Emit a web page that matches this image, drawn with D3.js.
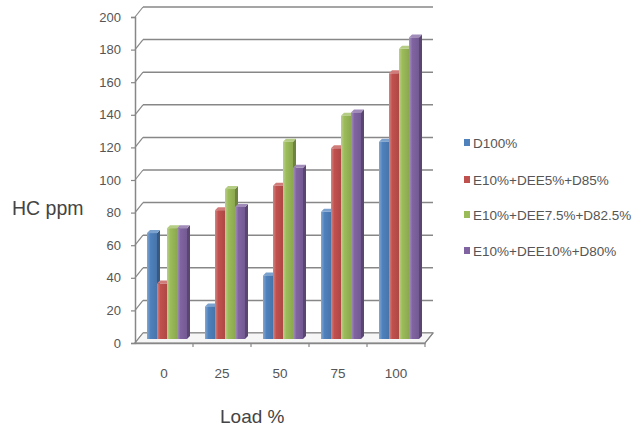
<!DOCTYPE html>
<html>
<head>
<meta charset="utf-8">
<script src="https://cdn.jsdelivr.net/npm/d3@7"></script>
<style>
  html, body { margin: 0; padding: 0; background: #fff; }
  svg { display: block; }
</style>
</head>
<body>
<svg id="chart" width="634" height="432"></svg>
<script>
// Load steps (%) and HC emissions (ppm) for each fuel blend
const loads = ["0", "25", "50", "75", "100"];
const seriesNames = ["D100%", "E10%+DEE5%+D85%", "E10%+DEE7.5%+D82.5%", "E10%+DEE10%+D80%"];
const d100 = [65, 20, 39, 78, 121];
const dee5 = [34, 79, 94, 117, 163];
const dee75 = [68, 92, 121, 137, 178];
const dee10 = [68, 81, 105, 139, 185];
const yTicks = [0, 20, 40, 60, 80, 100, 120, 140, 160, 180, 200];
const colors = ["#4F81BD", "#C0504D", "#9BBB59", "#8064A2"];

const series = [d100, dee5, dee75, dee10];

const svg = d3.select("#chart");
const font = "'Liberation Sans', Arial, sans-serif";

// Front plane of the 3D plot box, and the depth offset of the back wall
const x0 = 135, x1 = 425, yBase = 343, yTop = 17;
const dep = { x: 8, y: -10 };

const x = d3.scaleBand().domain(loads).range([x0, x1]);
const xi = d3.scaleBand().domain(d3.range(series.length)).range([0, 40]).padding(0);
const y = d3.scaleLinear().domain([0, 200]).range([yBase, yTop]);

const gridColor = "#878787";

// Back-wall gridlines plus their links to the front axis
const grid = svg.append("g");
yTicks.forEach(t => {
  const yy = y(t);
  grid.append("line")
    .attr("x1", x0 + dep.x).attr("x2", x1 + dep.x)
    .attr("y1", yy + dep.y).attr("y2", yy + dep.y)
    .attr("stroke", gridColor).attr("stroke-width", 1.5);
  grid.append("line")
    .attr("x1", x0).attr("y1", yy)
    .attr("x2", x0 + dep.x).attr("y2", yy + dep.y)
    .attr("stroke", gridColor).attr("stroke-width", 1.2);
});

// Floor plate
svg.append("path")
  .attr("d", `M${x0},${yBase} L${x1},${yBase} L${x1 + dep.x},${yBase + dep.y} L${x0 + dep.x},${yBase + dep.y} Z`)
  .attr("fill", "#f6f6f6").attr("stroke", gridColor).attr("stroke-width", 1.2);

// Front vertical axis
const yAxis = d3.axisLeft(y).tickValues(yTicks).tickSize(4).tickPadding(10);
svg.append("g")
  .attr("transform", `translate(${x0},0)`)
  .call(yAxis)
  .call(g => g.select(".domain").attr("stroke", gridColor).attr("stroke-width", 1.5))
  .call(g => g.selectAll(".tick line").attr("stroke", gridColor).attr("stroke-width", 1.2))
  .call(g => g.selectAll(".tick text")
    .attr("font-family", font).attr("font-size", 13).attr("fill", "#555"));

// Front horizontal axis with tick marks between categories
const xAxis = d3.axisBottom(x).tickSize(0).tickPadding(25);
svg.append("g")
  .attr("transform", `translate(0,${yBase})`)
  .call(xAxis)
  .call(g => g.select(".domain").attr("stroke", gridColor).attr("stroke-width", 1.5))
  .call(g => g.selectAll(".tick text")
    .attr("font-family", font).attr("font-size", 13.5).attr("fill", "#555"));
loads.forEach((c, i) => {
  const bx = x(c) + x.bandwidth();
  svg.append("line")
    .attr("x1", bx).attr("x2", bx).attr("y1", yBase).attr("y2", yBase + 4)
    .attr("stroke", gridColor).attr("stroke-width", 1.2);
});

// Gradients for column front faces
const defs = svg.append("defs");
colors.forEach((c, i) => {
  const g = defs.append("linearGradient").attr("id", "grad" + i)
    .attr("x1", "0").attr("x2", "1").attr("y1", "0").attr("y2", "0");
  g.append("stop").attr("offset", "0%").attr("stop-color", d3.interpolateRgb(c, "#fff")(0.3));
  g.append("stop").attr("offset", "35%").attr("stop-color", c);
  g.append("stop").attr("offset", "100%").attr("stop-color", d3.interpolateRgb(c, "#000")(0.1));
});

// 3D columns
const barOff = { x: 3, y: -4 };
const barDep = { x: 3, y: -3 };
const bw = xi.bandwidth();
const bars = svg.append("g");
loads.forEach((c, ci) => {
  series.forEach((vals, si) => {
    const v = vals[ci];
    const bx = x(c) + (x.bandwidth() - 40) / 2 + xi(si) + barOff.x;
    const top = y(v) + barOff.y;
    const bot = y(0) + barOff.y;
    const col = colors[si];
    // right side
    bars.append("path")
      .attr("d", `M${bx + bw},${top} L${bx + bw + barDep.x},${top + barDep.y} L${bx + bw + barDep.x},${bot + barDep.y} L${bx + bw},${bot} Z`)
      .attr("fill", d3.interpolateRgb(col, "#000")(0.3));
    // top
    bars.append("path")
      .attr("d", `M${bx},${top} L${bx + barDep.x},${top + barDep.y} L${bx + bw + barDep.x},${top + barDep.y} L${bx + bw},${top} Z`)
      .attr("fill", d3.interpolateRgb(col, "#fff")(0.25));
    // front
    bars.append("rect")
      .attr("x", bx).attr("y", top)
      .attr("width", bw).attr("height", bot - top)
      .attr("fill", `url(#grad${si})`);
  });
});

// Right-hand floor edge
svg.append("line")
  .attr("x1", x1).attr("y1", yBase).attr("x2", x1 + dep.x).attr("y2", yBase + dep.y)
  .attr("stroke", gridColor).attr("stroke-width", 1.2);

// Axis titles
svg.append("text").attr("x", 12).attr("y", 215)
  .attr("font-family", font).attr("font-size", 19.5).attr("fill", "#444")
  .text("HC ppm");
svg.append("text").attr("x", 220).attr("y", 423)
  .attr("font-family", font).attr("font-size", 19).attr("fill", "#444")
  .text("Load %");

// Legend
const legY = [143, 180, 215, 251];
const leg = svg.append("g");
seriesNames.forEach((n, i) => {
  leg.append("rect").attr("x", 464).attr("y", legY[i] - 4).attr("width", 6).attr("height", 7)
    .attr("fill", colors[i]);
  leg.append("text").attr("x", 473).attr("y", legY[i] + 5)
    .attr("font-family", font).attr("font-size", 13.5).attr("fill", "#555")
    .text(n);
});
</script>
</body>
</html>
